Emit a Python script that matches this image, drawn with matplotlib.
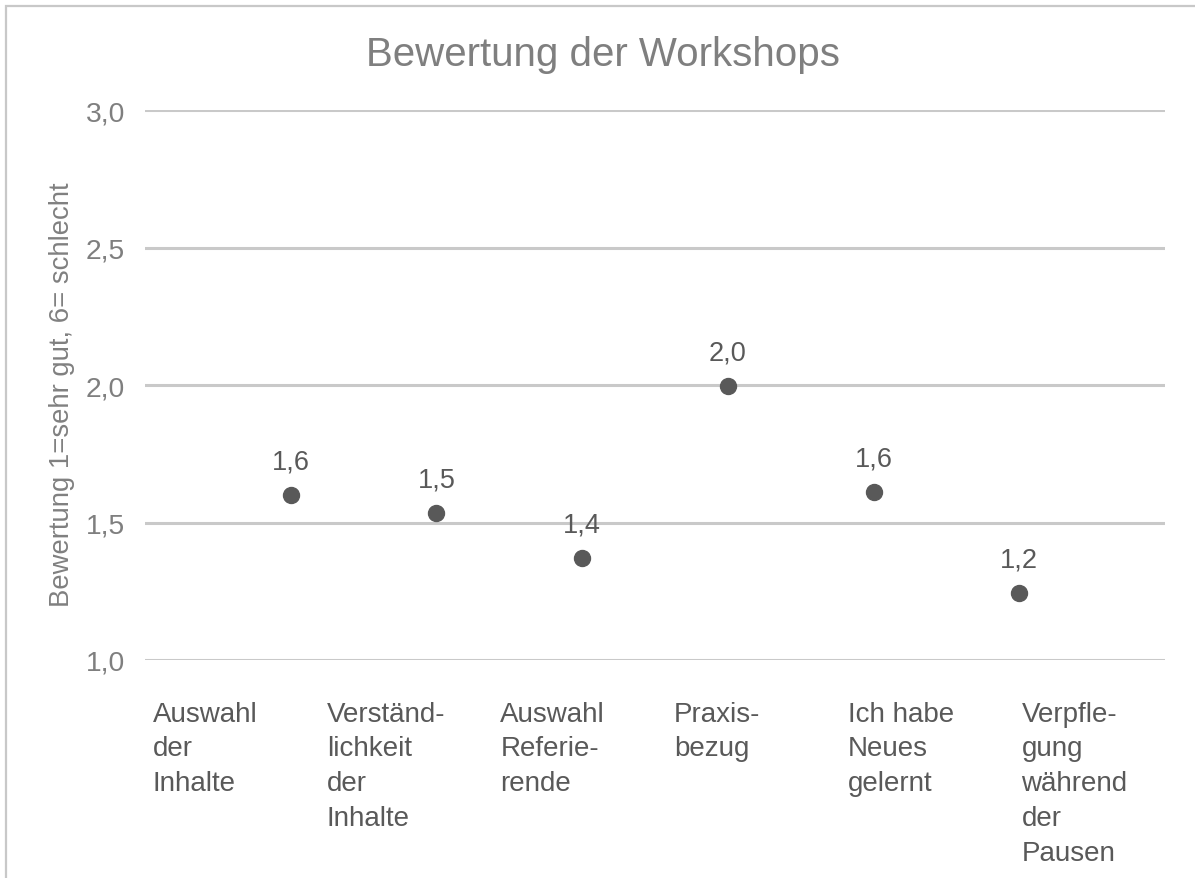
import matplotlib
matplotlib.use("Agg")
import matplotlib.pyplot as plt
from matplotlib.patches import Rectangle

plt.rcParams['font.family'] = ['Liberation Sans', 'DejaVu Sans']

# Workshop evaluation data (1 = very good, 6 = bad)
categories = [
    "Auswahl\nder\nInhalte",
    "Verständ-\nlichkeit\nder\nInhalte",
    "Auswahl\nReferie-\nrende",
    "Praxis-\nbezug",
    "Ich habe\nNeues\ngelernt",
    "Verpfle-\ngung\nwährend\nder\nPausen",
]
ratings = [1.60, 1.535, 1.37, 1.995, 1.61, 1.245]
y_ticks = [1.0, 1.5, 2.0, 2.5, 3.0]

W, H, DPI = 1195, 879, 100
fig = plt.figure(figsize=(W / DPI, H / DPI), dpi=DPI)
fig.patch.set_facecolor("white")

# chart frame (only top and left edges fall inside the canvas)
fig.patches.append(Rectangle((6 / W, -0.05), 1.2, (1 - 7 / H) + 0.05,
                             transform=fig.transFigure, fill=False,
                             edgecolor="#c8c8c8", linewidth=1.6, zorder=0))

left, right, top, bottom = 145, 1165, 111, 661
ax = fig.add_axes([left / W, 1 - bottom / H, (right - left) / W, (bottom - top) / H])

x = list(range(1, len(ratings) + 1))
ax.set_xlim(0, len(ratings) + 1)
ax.set_ylim(1.0, 3.0)

for t in y_ticks:
    ax.axhline(t, color="#c9c9c9", linewidth=2.2, zorder=1)

ax.plot(x, ratings, linestyle="none", marker="o", markersize=11.5,
        color="#595959", zorder=3, clip_on=False)

for xi, v in zip(x, ratings):
    ax.annotate(f"{v:.1f}".replace(".", ","), (xi, v), xytext=(0, 14.8),
                textcoords="offset points", ha="center", va="bottom",
                fontsize=19.5, color="#595959")

ax.set_xticks([])
ax.set_yticks(y_ticks)
ax.set_yticklabels([f"{t:.1f}".replace(".", ",") for t in y_ticks],
                   fontsize=20.3, color="#7f7f7f")
ax.tick_params(axis="y", length=0, pad=14.5)
for s in ax.spines.values():
    s.set_visible(False)

fig.text(62 / W, 1 - 395 / H, "Bewertung 1=sehr gut, 6= schlecht",
         rotation=90, ha="center", va="center", fontsize=19.8, color="#808080")

# category labels below the plot area, slightly wider pitch than the points
label_start, label_step = 0.0078, 0.1703
for i, c in enumerate(categories):
    ax.text(label_start + i * label_step, -0.074, c, transform=ax.transAxes,
            ha="left", va="top", fontsize=20, color="#595959", linespacing=1.44)

fig.text(602.5 / W, 1 - 55 / H, "Bewertung der Workshops",
         ha="center", va="center", fontsize=29, color="#7f7f7f")

fig.savefig("out.png", dpi=DPI, facecolor="white")
